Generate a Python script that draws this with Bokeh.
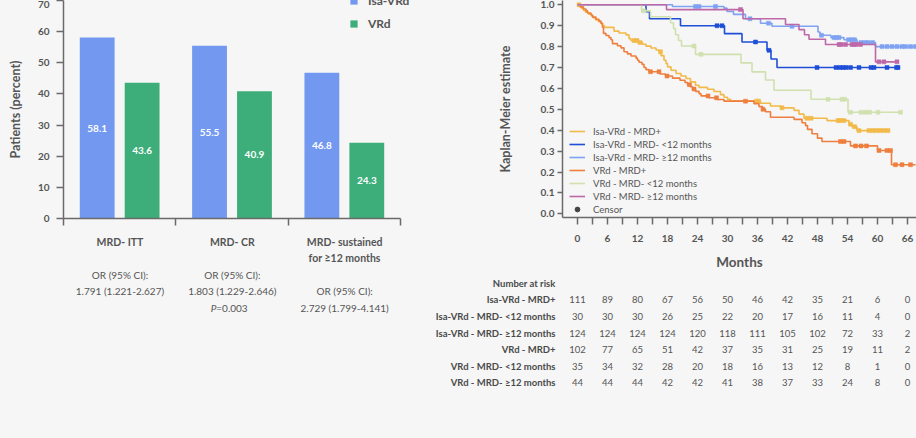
from bokeh.plotting import figure
from bokeh.models import Range1d, FixedTicker, Legend, LegendItem, PrintfTickFormatter
from bokeh.layouts import row, column
from bokeh.core.properties import value
from bokeh.embed import file_html
from bokeh.resources import INLINE

BG = "#f6f6f6"
FONT = "Lato"
TXT = "#555555"
AX = "#6a6a6a"

# ---------------- Bar chart data ----------------
bar_cats = ["MRD- ITT", "MRD- CR", "MRD- sustained"]
isa_vrd_pct = [58.1, 55.5, 46.8]
vrd_pct = [43.6, 40.9, 24.3]
bar_yticks = [0, 10, 20, 30, 40, 50, 60, 70]
# annotation lines under the bars: category index, line index, text
bold_cat = [0, 1, 2, 2]
bold_line = [0, 0, 0, 1]
bold_text = ["MRD- ITT", "MRD- CR", "MRD- sustained", "for \u226512 months"]
norm_cat = [0, 0, 1, 1, 2, 2]
norm_line = [2, 3, 2, 3, 3, 4]
norm_text = ["OR (95% CI):", "1.791 (1.221-2.627)", "OR (95% CI):",
             "1.803 (1.229-2.646)", "OR (95% CI):", "2.729 (1.799-4.141)"]
pval_cat, pval_line, pval_p, pval_rest = 1, 4, "P", "=0.003"

# ---------------- KM data ----------------
names = ["Isa-VRd - MRD+", "Isa-VRd - MRD- <12 months", "Isa-VRd - MRD- \u226512 months",
         "VRd - MRD+", "VRd - MRD- <12 months", "VRd - MRD- \u226512 months"]
colors = ["#F2BA4A", "#1F4FD6", "#7FA2F2", "#EE7F3E", "#D0E0AE", "#BE68A8"]

isa_pos_t = [0.4, 0.8, 1.2, 1.6, 2.2, 2.8, 3.2, 3.6, 4.2, 4.7, 5.0, 5.4, 7.3, 8.3, 9.7, 10.3,
             10.7, 12.0, 13.0, 13.7, 14.7, 15.7, 16.3, 16.7, 17.3, 17.7, 18.0, 18.7, 19.7,
             20.7, 21.7, 22.6, 23.6, 24.3, 26.0, 27.3, 28.6, 29.3, 30.0, 30.6, 36.6, 38.6,
             40.6, 43.3, 44.3, 45.3, 49.9, 54.3, 54.9, 55.9]
isa_pos_s = [0.991, 0.982, 0.973, 0.964, 0.955, 0.946, 0.937, 0.928, 0.919, 0.910, 0.901,
             0.892, 0.874, 0.865, 0.856, 0.838, 0.829, 0.820, 0.811, 0.802, 0.793, 0.784,
             0.775, 0.757, 0.735, 0.719, 0.703, 0.687, 0.671, 0.659, 0.647, 0.631, 0.615,
             0.605, 0.596, 0.585, 0.570, 0.558, 0.548, 0.539, 0.529, 0.516, 0.507, 0.495,
             0.477, 0.457, 0.446, 0.429, 0.417, 0.398]
isa_pos_end = 62.3
isa_pos_c = [0.3, 11.3, 11.9, 12.5, 16.6, 35.8, 36.2, 40.9, 45.9, 46.7, 52.1, 52.6, 53.3,
             54.6, 55.4, 56.3, 58.3, 59.1, 59.8, 60.5, 61.3, 62.1]

isa_lt12_t = [13.7, 14.4, 20.6, 29.4, 32.9, 37.9, 38.7, 39.9]
isa_lt12_s = [0.967, 0.933, 0.900, 0.862, 0.822, 0.782, 0.741, 0.700]
isa_lt12_end = 64.2
isa_lt12_c = [27.9, 28.9, 35.6, 38.3, 47.9, 51.7, 52.5, 53.1, 53.7, 54.6, 56.3, 58.7,
              59.3, 61.9, 63.8, 64.1]

isa_ge12_t = [19.0, 29.3, 29.9, 31.2, 33.6, 36.6, 38.9, 48.1, 48.5, 50.7, 53.3, 55.9, 59.6]
isa_ge12_s = [0.992, 0.984, 0.968, 0.954, 0.933, 0.912, 0.897, 0.870, 0.854, 0.843,
              0.833, 0.819, 0.800]
isa_ge12_end = 67.8
isa_ge12_c = [23.6, 24.3, 27.6, 34.5, 38.2, 42.9, 48.8, 51.3, 51.8, 52.3, 54.2, 54.8,
              55.4, 56.7, 57.5, 58.1, 59.0, 60.9, 61.9, 62.9, 63.9, 64.9, 65.6, 66.6, 67.6]

vrd_pos_t = [0.6, 1.2, 1.7, 2.0, 2.7, 3.0, 3.7, 4.3, 4.7, 5.0, 5.2, 5.7, 6.3, 6.7, 7.0,
             8.0, 8.7, 9.3, 10.0, 10.7, 11.7, 12.0, 12.3, 12.9, 13.3, 13.7, 14.3, 16.5,
             17.6, 19.0, 20.5, 21.5, 22.0, 22.6, 23.0, 23.6, 24.3, 24.7, 26.3, 27.9, 29.3,
             35.3, 36.3, 37.0, 37.6, 38.6, 43.3, 44.9, 45.6, 46.0, 46.9, 48.0, 48.9, 54.6,
             60.0, 62.8]
vrd_pos_s = [0.990, 0.980, 0.971, 0.961, 0.951, 0.941, 0.931, 0.922, 0.912, 0.892, 0.863,
             0.853, 0.843, 0.833, 0.814, 0.804, 0.794, 0.775, 0.765, 0.755, 0.745, 0.735,
             0.725, 0.715, 0.700, 0.690, 0.680, 0.669, 0.659, 0.649, 0.639, 0.628, 0.618,
             0.608, 0.597, 0.586, 0.575, 0.564, 0.555, 0.547, 0.539, 0.527, 0.513, 0.500,
             0.488, 0.462, 0.452, 0.436, 0.422, 0.404, 0.383, 0.362, 0.346, 0.325, 0.303,
             0.235]
vrd_pos_end = 67.6
vrd_pos_c = [14.6, 16.3, 17.9, 22.4, 23.3, 26.1, 27.8, 33.6, 37.1, 52.6, 53.3, 55.6, 56.7,
             57.8, 60.3, 61.9, 62.6, 63.6, 64.9, 66.6]

vrd_lt12_t = [12.8, 14.6, 18.6, 19.2, 19.6, 20.2, 20.8, 23.6, 32.7, 34.9, 37.6, 39.3, 46.7, 54.1]
vrd_lt12_s = [0.971, 0.943, 0.914, 0.886, 0.857, 0.829, 0.803, 0.763, 0.722, 0.679, 0.640,
              0.591, 0.548, 0.486]
vrd_lt12_end = 64.6
vrd_lt12_c = [13.2, 23.3, 24.7, 50.1, 52.9, 53.4, 54.6, 56.7, 57.6, 58.4, 60.1, 64.6]

vrd_ge12_t = [17.8, 33.1, 41.6, 44.3, 45.4, 46.3, 49.6, 59.6]
vrd_ge12_s = [0.977, 0.933, 0.906, 0.881, 0.857, 0.835, 0.810, 0.727]
vrd_ge12_end = 63.9
vrd_ge12_c = [32.6, 52.3, 52.7, 53.6, 54.9, 55.3, 55.7, 56.6, 60.3, 61.3, 63.9]

km_series = [
    (isa_pos_t, isa_pos_s, isa_pos_end, isa_pos_c),
    (isa_lt12_t, isa_lt12_s, isa_lt12_end, isa_lt12_c),
    (isa_ge12_t, isa_ge12_s, isa_ge12_end, isa_ge12_c),
    (vrd_pos_t, vrd_pos_s, vrd_pos_end, vrd_pos_c),
    (vrd_lt12_t, vrd_lt12_s, vrd_lt12_end, vrd_lt12_c),
    (vrd_ge12_t, vrd_ge12_s, vrd_ge12_end, vrd_ge12_c),
]
km_label_months = [0, 6, 12, 18, 24, 30, 36, 42, 48, 54, 60, 66]
km_mid_months = [3, 9, 15, 21, 27, 33, 39, 45, 51, 57, 63]

# ---------------- Number at risk ----------------
risk_months = [0, 6, 12, 18, 24, 30, 36, 42, 48, 54, 60, 66]
risk_isa_pos = [111, 89, 80, 67, 56, 50, 46, 42, 35, 21, 6, 0]
risk_isa_lt12 = [30, 30, 30, 26, 25, 22, 20, 17, 16, 11, 4, 0]
risk_isa_ge12 = [124, 124, 124, 124, 120, 118, 111, 105, 102, 72, 33, 2]
risk_vrd_pos = [102, 77, 65, 51, 42, 37, 35, 31, 25, 19, 11, 2]
risk_vrd_lt12 = [35, 34, 32, 28, 20, 18, 16, 13, 12, 8, 1, 0]
risk_vrd_ge12 = [44, 44, 44, 42, 42, 41, 38, 37, 33, 24, 8, 0]
risk_rows = [risk_isa_pos, risk_isa_lt12, risk_isa_ge12, risk_vrd_pos, risk_vrd_lt12, risk_vrd_ge12]

F = value(FONT)
PX_PER_CAT = 337 / 3.0


def base_fig(**kw):
    f = figure(output_backend="svg", toolbar_location=None,
               background_fill_color=BG, border_fill_color=BG,
               outline_line_color=None, frame_align=False, **kw)
    f.xgrid.visible = False
    f.ygrid.visible = False
    return f


def style_axis(ax, label_size="10px"):
    ax.axis_line_color = AX
    ax.axis_line_width = 1.5
    ax.major_tick_line_color = AX
    ax.major_tick_line_width = 1.5
    ax.major_tick_in = 0
    ax.minor_tick_line_color = AX
    ax.minor_tick_line_width = 1.5
    ax.minor_tick_in = 0
    ax.major_label_text_font = FONT
    ax.major_label_text_font_style = "bold"
    ax.major_label_text_font_size = label_size
    ax.major_label_text_color = TXT
    ax.axis_label_text_font = FONT
    ax.axis_label_text_font_style = "bold"
    ax.axis_label_text_color = TXT


# ================= Bar chart =================
bar = base_fig(width=420, height=228, x_range=Range1d(0, (420 - 63) / PX_PER_CAT),
               y_range=Range1d(0, 70),
               min_border_left=63, min_border_right=0, min_border_top=0, min_border_bottom=10)
xs_isa = [i + 0.5 - 0.2 for i in range(len(bar_cats))]
xs_vrd = [i + 0.5 + 0.2 for i in range(len(bar_cats))]
r_isa = bar.vbar(x=xs_isa, top=isa_vrd_pct, width=0.31, color="#7298F0", line_color=None)
r_vrd = bar.vbar(x=xs_vrd, top=vrd_pct, width=0.31, color="#3DAE7A", line_color=None)
bar.text(x=xs_isa, y=[v / 2 for v in isa_vrd_pct], text=[f"{v:.1f}" for v in isa_vrd_pct],
         text_align="center", text_baseline="middle", text_color="white",
         text_font=F, text_font_style="bold", text_font_size="10px")
bar.text(x=xs_vrd, y=[v / 2 for v in vrd_pct], text=[f"{v:.1f}" for v in vrd_pct],
         text_align="center", text_baseline="middle", text_color="white",
         text_font=F, text_font_style="bold", text_font_size="10px")
style_axis(bar.yaxis[0])
bar.yaxis.ticker = FixedTicker(ticks=bar_yticks)
bar.yaxis.major_tick_out = 7
bar.yaxis.major_label_standoff = 7
bar.yaxis.axis_label = "Patients (percent)"
bar.yaxis.axis_label_text_font_size = "12.5px"
bar.yaxis.axis_label_standoff = 12
style_axis(bar.xaxis[0])
bar.xaxis.ticker = FixedTicker(ticks=[], minor_ticks=[0, 1, 2, 3])
bar.xaxis.bounds = (0, len(bar_cats))
bar.xaxis.minor_tick_out = 7
bar.xaxis.major_label_standoff = 0
bar_leg = Legend(items=[LegendItem(label="Isa-VRd", renderers=[r_isa]),
                        LegendItem(label="VRd", renderers=[r_vrd])],
                 location=(286, 187), orientation="vertical", padding=0, margin=0,
                 spacing=8, glyph_width=9, glyph_height=9, label_height=10,
                 label_standoff=10, border_line_color=None, background_fill_alpha=0,
                 label_text_font=FONT, label_text_font_style="bold",
                 label_text_font_size="12px", label_text_color=TXT)
bar.add_layout(bar_leg)

# ================= Bar annotations =================
lab = base_fig(width=420, height=210,
               x_range=Range1d(-63.3 / PX_PER_CAT, (420 - 63.3) / PX_PER_CAT),
               y_range=Range1d(-(210 - 13) / 16.6, 13 / 16.6),
               min_border_left=0, min_border_right=0, min_border_top=0, min_border_bottom=0)
lab.axis.visible = False
lab.text(x=[c + 0.5 for c in bold_cat], y=[-l for l in bold_line], text=bold_text,
         text_align="center", text_baseline="middle", text_color=TXT,
         text_font=F, text_font_style="bold", text_font_size="10.5px")
lab.text(x=[c + 0.5 for c in norm_cat], y=[-l for l in norm_line], text=norm_text,
         text_align="center", text_baseline="middle", text_color=TXT,
         text_font=F, text_font_size="10px")
lab.text(x=[pval_cat + 0.5], y=[-pval_line], text=[pval_p], x_offset=-16,
         text_align="right", text_baseline="middle", text_color=TXT,
         text_font=F, text_font_style="italic", text_font_size="10px")
lab.text(x=[pval_cat + 0.5], y=[-pval_line], text=[pval_rest], x_offset=-16,
         text_align="left", text_baseline="middle", text_color=TXT,
         text_font=F, text_font_size="10px")

# ================= KM chart =================
km = base_fig(width=496, height=272, x_range=Range1d(-3, 67.8), y_range=Range1d(-0.0176, 1.0205),
              min_border_left=142, min_border_right=0, min_border_top=0, min_border_bottom=54)


def surv_at(times, surv, t):
    s = 1.0
    for ti, si in zip(times, surv):
        if ti <= t:
            s = si
    return s


items = []
for (t, s, end, cens), name, col in zip(km_series, names, colors):
    r = km.step(x=[0] + t + [end], y=[1.0] + s + [s[-1]], mode="after",
                line_color=col, line_width=1.6)
    km.scatter(x=cens, y=[surv_at(t, s, c) for c in cens], marker="square", size=4,
               fill_color=col, line_color=col, line_width=0.5)
    items.append(LegendItem(label=name, renderers=[r]))
# legend-only renderer for the censor symbol (hidden in the plot itself)
r_c = km.scatter(x=isa_pos_c[:1], y=[1.0], marker="circle", size=5,
                 fill_color="#444444", line_color="#444444", visible=False)
items.append(LegendItem(label="Censor", renderers=[r_c]))

style_axis(km.xaxis[0])
style_axis(km.yaxis[0])
km.xaxis.ticker = FixedTicker(ticks=km_label_months, minor_ticks=km_mid_months)
km.xaxis.major_tick_out = 7
km.xaxis.minor_tick_out = 7
km.xaxis.major_label_standoff = 10
km.xaxis.axis_label = "Months"
km.xaxis.axis_label_text_font_size = "13.5px"
km.xaxis.axis_label_standoff = 9
km.yaxis.ticker = FixedTicker(ticks=[i / 10 for i in range(11)], minor_ticks=[])
km.yaxis.formatter = PrintfTickFormatter(format="%.1f")
km.yaxis.major_tick_out = 5
km.yaxis.major_label_standoff = 3
km.yaxis.axis_label = "Kaplan-Meier estimate"
km.yaxis.axis_label_text_font_size = "12.5px"
km.yaxis.axis_label_standoff = 25
km_leg = Legend(items=items, location=(7, 2), padding=0, margin=0, spacing=1,
                glyph_width=16, glyph_height=12, label_height=12, label_standoff=8,
                border_line_color=None, background_fill_alpha=0,
                inactive_fill_alpha=0,
                label_text_font=FONT, label_text_font_size="9.5px", label_text_color=TXT)
km.add_layout(km_leg)

# ================= Number at risk =================
risk = base_fig(width=496, height=166, x_range=Range1d(-3 - 142 / 5.0, 67.8),
                y_range=Range1d(-(166 - 10.7) / 16.6, 10.7 / 16.6),
                min_border_left=0, min_border_right=0, min_border_top=0, min_border_bottom=0)
risk.axis.visible = False
LABEL_X = -4.4
risk.text(x=[LABEL_X] * 7, y=[-i for i in range(7)], text=["Number at risk"] + names,
          text_align="right", text_baseline="middle", text_color="#4a4a4a",
          text_font=F, text_font_style="bold", text_font_size="9.5px")
for i, vals in enumerate(risk_rows):
    risk.text(x=risk_months, y=[-(i + 1)] * len(vals), text=[str(v) for v in vals],
              text_align="center", text_baseline="middle", text_color=TXT,
              text_font=F, text_font_size="9.5px")

root = row(column(bar, lab, spacing=0), column(km, risk, spacing=0), spacing=0,
           styles={"background-color": BG})
open("out.html", "w").write(file_html(root, INLINE))
